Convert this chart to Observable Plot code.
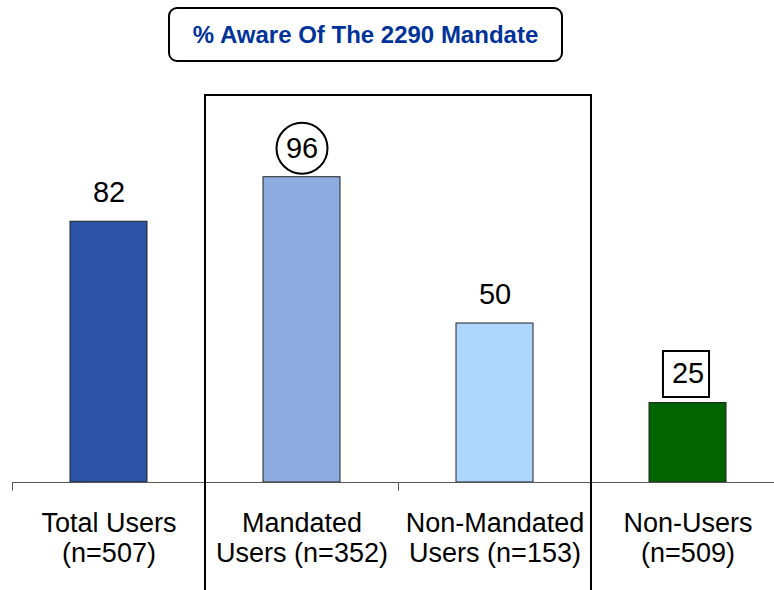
<!DOCTYPE html>
<html>
<head>
<meta charset="utf-8">
<script src="https://cdn.jsdelivr.net/npm/d3@7"></script>
<script src="https://cdn.jsdelivr.net/npm/@observablehq/plot@0.6"></script>
<style>
  html, body { margin: 0; padding: 0; background: #fff; overflow: hidden; }
  #wrap { position: relative; width: 774px; height: 590px; }
  #title {
    position: absolute; left: 168px; top: 7px; width: 391px; height: 51px;
    border: 2px solid #000; border-radius: 9px; box-sizing: content-box;
    font: bold 24px "Liberation Sans", Arial, sans-serif; color: #003399;
    display: flex; align-items: center; justify-content: center;
  }
  svg { font-family: "Liberation Sans", Arial, sans-serif; }
</style>
</head>
<body>
<div id="wrap">
  <div id="title">% Aware Of The 2290 Mandate</div>
</div>
<script>
const categories = ["Total Users", "Mandated Users", "Non-Mandated Users", "Non-Users"];
const axisLabels = ["Total Users\n(n=507)", "Mandated\nUsers (n=352)", "Non-Mandated\nUsers (n=153)", "Non-Users\n(n=509)"];
const values = [82, 96, 50, 25];
const colors = ["#2B53A5", "#8FACE0", "#ADD6FF", "#006400"];
const highlight = ["", "circle", "", "square"];
const boxed = ["Mandated Users", "Non-Mandated Users"];

const data = categories.map((c, i) => ({cat: c, label: axisLabels[i], value: values[i], color: colors[i], hl: highlight[i]}));

const W = 774, H = 590, mL = 12, mR = -10, mT = 164, mB = 108;
const step = (W - mL - mR) / categories.length;
const font = "Liberation Sans, Arial, sans-serif";

const plot = Plot.plot({
  width: W, height: H,
  marginLeft: mL, marginRight: mR, marginTop: mT, marginBottom: mB,
  x: {domain: categories, paddingInner: 0.6, paddingOuter: 0.3, axis: null},
  y: {domain: [0, 100], axis: null},
  style: {fontFamily: font, overflow: "visible"},
  marks: [
    Plot.barY(data, {x: "cat", y: "value", fill: "color", stroke: "#222", strokeWidth: 1}),
    Plot.ruleY([0], {stroke: "#555", strokeWidth: 1}),
    Plot.ruleX(categories.slice(0, 3), {x: d => d, dx: -step / 2, y1: 0, y2: -2.7, stroke: "#555", strokeWidth: 1}),
    Plot.text(data, {x: "cat", y: "value", text: d => String(d.value), dy: -29, fontSize: 29, fill: "#000", lineAnchor: "middle"}),
    Plot.dot(data.filter(d => d.hl === "circle"), {x: "cat", y: "value", dy: -29, r: 25.5, symbol: "circle", stroke: "#000", strokeWidth: 2, fill: "none"}),
    Plot.dot(data.filter(d => d.hl === "square"), {x: "cat", y: "value", dy: -29, dx: -2, r: 26, symbol: "square", stroke: "#000", strokeWidth: 2, fill: "none"}),
    Plot.text(data, {x: "cat", y: 0, text: "label", dy: 55, fontSize: 27, lineHeight: 1.1, fill: "#000", lineAnchor: "middle"})
  ]
});

// Bracket box around the user groups, positioned from Plot's own scales
const xs = plot.scale("x");
const boxLeft = xs.apply(boxed[0]) - (xs.step - xs.bandwidth) / 2;
const boxRight = xs.apply(boxed[1]) + xs.bandwidth + (xs.step - xs.bandwidth) / 2;
const boxTop = 95;
const g = d3.select(plot).append("g").attr("fill", "none").attr("stroke", "#000").attr("stroke-width", 2);
g.append("path").attr("d", `M${boxLeft},${H + 2}V${boxTop}H${boxRight}V${H + 2}`);

document.getElementById("wrap").prepend(plot);
</script>
</body>
</html>
